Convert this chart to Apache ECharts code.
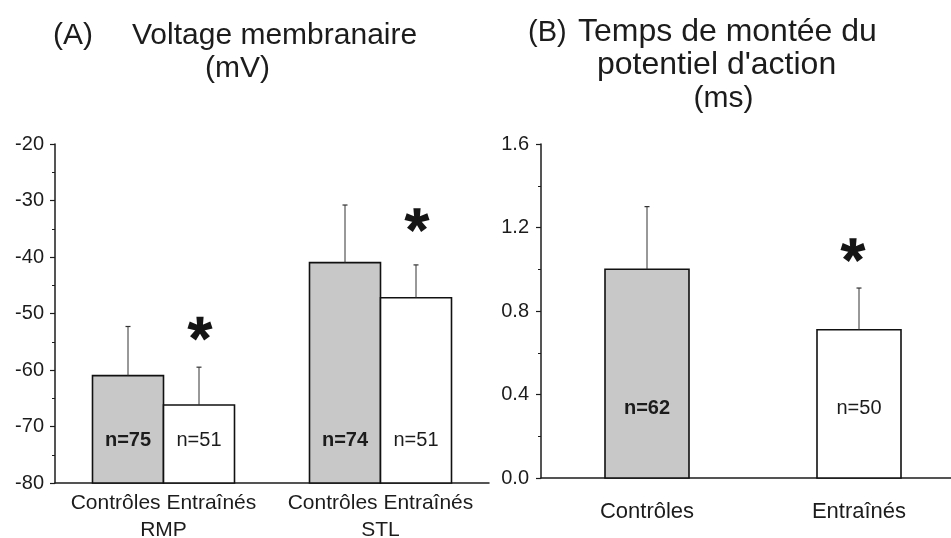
<!DOCTYPE html>
<html>
<head>
<meta charset="utf-8">
<script src="https://cdn.jsdelivr.net/npm/echarts@6/dist/echarts.min.js"></script>
<style>
  html, body { margin: 0; padding: 0; background: #fff; }
  #chart { width: 951px; height: 538px; }
</style>
</head>
<body>
<div id="chart"></div>
<script>
// ---- Panel A: membrane voltage (mV) ----
const groups = ['Contrôles', 'Entraînés'];
const conditions = ['RMP', 'STL'];
const voltCtrlMean = [-61.0, -41.0];
const voltCtrlSd = [8.7, 10.2];
const voltCtrlN = [75, 74];
const voltEntMean = [-66.2, -47.2];
const voltEntSd = [6.7, 5.8];
const voltEntN = [51, 51];
const voltStar = [-52.7, -33.5];      // significance marker level above the trained bars

// ---- Panel B: action potential rise time (ms) ----
const riseCats = ['Contrôles', 'Entraînés'];
const riseMean = [1.00, 0.71];
const riseSd = [0.30, 0.20];
const riseN = [62, 50];
const riseStar = [null, 1.091];

const titleA = ['(A)', 'Voltage membranaire', '(mV)'];
const titleB = ['(B)', 'Temps de montée du', "potentiel d'action", '(ms)'];

const FONT = '"Liberation Sans", Arial, Helvetica, sans-serif';
const INK = '#1c1c1c';
const GRAY = '#c8c8c8';

const voltMin = -80, voltMax = -20;
const riseMin = 0, riseMax = 1.6;

// Bar with upward error whisker and an "n=" label inside
function barRenderer(base, width, offset, fillOf, lift, boldOf) {
  return function (params, api) {
    const ci = api.value(0), m = api.value(1), s = api.value(2), n = api.value(3);
    const top = api.coord([ci, m]);
    const bot = api.coord([ci, base]);
    const err = api.coord([ci, m + s]);
    const cx = top[0] + offset;
    const idx = params.dataIndex;
    return {
      type: 'group',
      children: [
        {
          type: 'rect',
          shape: { x: cx - width / 2, y: top[1], width: width, height: bot[1] - top[1] },
          style: { fill: fillOf(idx), stroke: '#111', lineWidth: 1.6 }
        },
        {
          type: 'line',
          shape: { x1: cx, y1: top[1], x2: cx, y2: err[1] },
          style: { stroke: '#333', lineWidth: 1 }
        },
        {
          type: 'line',
          shape: { x1: cx - 2.5, y1: err[1], x2: cx + 2.5, y2: err[1] },
          style: { stroke: '#333', lineWidth: 1.2 }
        },
        {
          type: 'text',
          style: {
            text: 'n=' + n, x: cx, y: bot[1] - lift,
            align: 'center', verticalAlign: 'middle',
            fontFamily: FONT, fontSize: 20, fontWeight: boldOf(idx) ? 'bold' : 'normal',
            fill: INK
          }
        }
      ]
    };
  };
}

// Five-armed asterisk marking a significant difference
function starRenderer(offset) {
  return function (params, api) {
    const c = api.coord([api.value(0), api.value(1)]);
    const cx = c[0] + offset, cy = c[1];
    const R = 12, hw0 = 2.6, hw1 = 3.6;
    const arms = [];
    for (let k = 0; k < 5; k++) {
      const a = (-90 + 72 * k) * Math.PI / 180;
      const dx = Math.cos(a), dy = Math.sin(a);
      const px = -dy, py = dx;
      arms.push({
        type: 'polygon',
        shape: {
          points: [
            [cx + px * hw0, cy + py * hw0],
            [cx + dx * R + px * hw1, cy + dy * R + py * hw1],
            [cx + dx * R - px * hw1, cy + dy * R - py * hw1],
            [cx - px * hw0, cy - py * hw0]
          ]
        },
        style: { fill: '#151515' }
      });
    }
    return { type: 'group', children: arms };
  };
}

const voltCtrlData = conditions.map((c, i) => [i, voltCtrlMean[i], voltCtrlSd[i], voltCtrlN[i]]);
const voltEntData = conditions.map((c, i) => [i, voltEntMean[i], voltEntSd[i], voltEntN[i]]);
const voltStarData = conditions.map((c, i) => [i, voltStar[i]]);
const riseData = riseCats.map((c, i) => [i, riseMean[i], riseSd[i], riseN[i]]);
const riseStarData = riseCats.map((c, i) => [i, riseStar[i]]).filter(d => d[1] != null);

const yAxisCommon = {
  type: 'value',
  axisLine: { show: true, lineStyle: { color: INK, width: 1.5 } },
  axisTick: { show: true, inside: false, length: 5, lineStyle: { color: INK, width: 1.2 } },
  minorTick: { show: true, splitNumber: 2, length: 3, lineStyle: { color: INK, width: 1 } },
  splitLine: { show: false },
  minorSplitLine: { show: false },
  axisLabel: { color: INK, fontFamily: FONT, fontSize: 20, margin: 11 }
};

const xAxisCommon = {
  type: 'category',
  boundaryGap: true,
  axisLine: { show: true, lineStyle: { color: INK, width: 1.5 } },
  axisTick: { show: false },
  splitLine: { show: false }
};

function textEl(text, x, y, align, size) {
  return {
    type: 'text', x: x, y: y,
    style: {
      text: text, align: align, verticalAlign: 'middle',
      fontFamily: FONT, fontSize: size, fill: INK
    }
  };
}

const chart = echarts.init(document.getElementById('chart'), null, { renderer: 'canvas' });
chart.setOption({
  backgroundColor: '#fff',
  animation: false,
  grid: [
    { left: 55, top: 144, width: 434, height: 339, outerBoundsMode: 'none', containLabel: false },
    { left: 541, top: 144, width: 424, height: 334, outerBoundsMode: 'none', containLabel: false }
  ],
  xAxis: [
    Object.assign({}, xAxisCommon, {
      gridIndex: 0, data: conditions,
      axisLabel: {
        color: INK, fontFamily: FONT, fontSize: 21, lineHeight: 27.5, margin: 6,
        interval: 0,
        formatter: v => groups.join(' ') + '\n' + v
      }
    }),
    Object.assign({}, xAxisCommon, {
      gridIndex: 1, data: riseCats,
      axisLabel: { color: INK, fontFamily: FONT, fontSize: 22, lineHeight: 22, margin: 23, interval: 0 }
    })
  ],
  yAxis: [
    Object.assign({}, yAxisCommon, { gridIndex: 0, min: voltMin, max: voltMax, interval: 10 }),
    Object.assign({}, yAxisCommon, {
      gridIndex: 1, min: riseMin, max: riseMax, interval: 0.4,
      axisLabel: Object.assign({}, yAxisCommon.axisLabel, { margin: 12, formatter: v => v.toFixed(1) })
    })
  ],
  series: [
    {
      name: groups[0], type: 'custom', xAxisIndex: 0, yAxisIndex: 0,
      encode: { x: 0, y: 1 }, data: voltCtrlData,
      renderItem: barRenderer(voltMin, 71, -35.5, () => GRAY, 43, () => true)
    },
    {
      name: groups[1], type: 'custom', xAxisIndex: 0, yAxisIndex: 0,
      encode: { x: 0, y: 1 }, data: voltEntData,
      renderItem: barRenderer(voltMin, 71, 35.5, () => '#fff', 43, () => false)
    },
    {
      name: 'sig A', type: 'custom', xAxisIndex: 0, yAxisIndex: 0,
      encode: { x: 0, y: 1 }, data: voltStarData,
      renderItem: starRenderer(36.5)
    },
    {
      name: 'rise', type: 'custom', xAxisIndex: 1, yAxisIndex: 1,
      encode: { x: 0, y: 1 }, data: riseData,
      renderItem: barRenderer(riseMin, 84, 0, i => (i === 0 ? GRAY : '#fff'), 70, i => i === 0)
    },
    {
      name: 'sig B', type: 'custom', xAxisIndex: 1, yAxisIndex: 1,
      encode: { x: 0, y: 1 }, data: riseStarData,
      renderItem: starRenderer(-6)
    }
  ],
  graphic: [
    textEl(titleA[0], 53, 36, 'left', 30),
    textEl(titleA[1], 132, 36, 'left', 30),
    textEl(titleA[2], 237.5, 69, 'center', 30),
    textEl(titleB[0], 528, 32.5, 'left', 29),
    textEl(titleB[1], 578, 32.5, 'left', 32),
    textEl(titleB[2], 597, 65.5, 'left', 32),
    textEl(titleB[3], 723.5, 99, 'center', 30)
  ]
});
</script>
</body>
</html>
